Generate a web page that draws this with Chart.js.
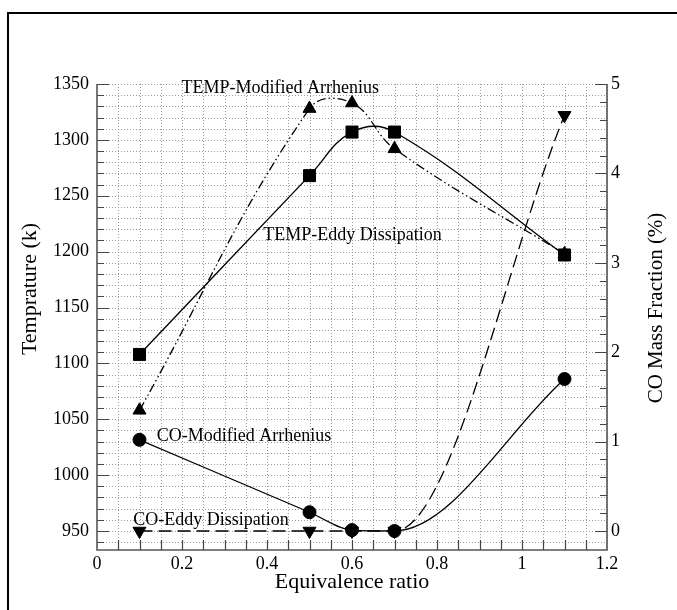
<!DOCTYPE html>
<html>
<head>
<meta charset="utf-8">
<script src="https://cdn.jsdelivr.net/npm/chart.js@4.4.0/dist/chart.umd.min.js"></script>
<style>
html, body { margin: 0; padding: 0; background: #fff; }
#wrap { position: relative; width: 677px; height: 610px; overflow: hidden; }
#frame { position: absolute; left: 7px; top: 12px; width: 720px; height: 720px;
         border-top: 2px solid #000; border-left: 2px solid #000; }
#c { position: absolute; left: 0; top: 0; }
</style>
</head>
<body>
<div id="wrap"><div id="frame"></div><canvas id="c" width="677" height="610"></canvas></div>
<script>
// ---- data ----
const equivalenceRatio = [0.1, 0.5, 0.6, 0.7, 1.1];
const tempEddyDissipation = [1108, 1268, 1307, 1307, 1197];
const tempModifiedArrhenius = [1058, 1328, 1333, 1292, 1198];
const coModifiedArrhenius = [1.02, 0.21, 0.01, 0.0, 1.70];
const coEddyDissipation = [0, 0, 0, 0, 4.65];

const seriesNames = ['TEMP-Eddy Dissipation', 'TEMP-Modified Arrhenius',
                     'CO-Modified Arrhenius', 'CO-Eddy Dissipation'];

const xTickLabels = [0, 0.2, 0.4, 0.6, 0.8, 1, 1.2];
const tempTickLabels = [950, 1000, 1050, 1100, 1150, 1200, 1250, 1300, 1350];
const coTickLabels = [0, 1, 2, 3, 4, 5];

const xTitle = 'Equivalence ratio';
const tempTitle = 'Temprature (k)';
const coTitle = 'CO Mass Fraction (%)';

// ---- axis ranges / minor steps ----
const xRange = [0, 1.2], tempRange = [933, 1350], coRange = [-0.2125, 5];
const xMinor = 0.05, tempMinor = 10, coMinor = 0.2;

// annotation anchors (data units)
const labelAnchors = [
  { text: seriesNames[1], x: 0.199, y: 1346, axis: 'y' },
  { text: seriesNames[0], x: 0.391, y: 1215, axis: 'y' },
  { text: seriesNames[2], x: 0.1405, y: 1034.4, axis: 'y' },
  { text: seriesNames[3], x: 0.0854, y: 959.8, axis: 'y' }
];

const SERIF = '"Liberation Serif", "Times New Roman", serif';
const pts = (ys) => equivalenceRatio.map((x, i) => ({ x: x, y: ys[i] }));

function verticalText(ctx, text, cx, cy, size) {
  ctx.save();
  ctx.font = size + 'px ' + SERIF;
  ctx.fillStyle = '#000';
  ctx.textAlign = 'center';
  ctx.textBaseline = 'middle';
  ctx.translate(cx, cy);
  ctx.rotate(-Math.PI / 2);
  ctx.fillText(text, 0, 0);
  ctx.restore();
}

const paperGrid = {
  id: 'paperGrid',
  beforeDatasetsDraw(chart) {
    const { ctx, chartArea: a, scales } = chart;
    const x = scales.x, y = scales.y, y2 = scales.y2;
    ctx.save();
    ctx.lineWidth = 1;
    ctx.strokeStyle = '#9c9c9c';
    ctx.setLineDash([1, 2]);
    ctx.beginPath();
    for (let i = 1; i * xMinor <= xRange[1] + 1e-9; i++) {
      const px = Math.round(x.getPixelForValue(i * xMinor)) + 0.5;
      ctx.moveTo(px, a.top); ctx.lineTo(px, a.bottom);
    }
    for (let v = Math.ceil(tempRange[0] / tempMinor) * tempMinor; v <= tempRange[1] + 1e-9; v += tempMinor) {
      const py = Math.round(y.getPixelForValue(v)) + 0.5;
      ctx.moveTo(a.left, py); ctx.lineTo(a.right, py);
    }
    ctx.stroke();
    ctx.setLineDash([]);

    // ticks (inward)
    ctx.strokeStyle = '#444';
    ctx.lineWidth = 1.2;
    ctx.beginPath();
    for (let v = Math.ceil(tempRange[0] / tempMinor) * tempMinor; v <= tempRange[1] + 1e-9; v += tempMinor) {
      const py = Math.round(y.getPixelForValue(v)) + 0.5;
      const len = (Math.round(v) % 50 === 0) ? 12 : 7;
      ctx.moveTo(a.left, py); ctx.lineTo(a.left + len, py);
    }
    for (let i = 0; i * coMinor <= coRange[1] + 1e-9; i++) {
      const v = i * coMinor;
      const py = Math.round(y2.getPixelForValue(v)) + 0.5;
      const len = (i % 5 === 0) ? 12 : 7;
      ctx.moveTo(a.right, py); ctx.lineTo(a.right - len, py);
    }
    for (let i = 1; i * xMinor < xRange[1] - 1e-9; i++) {
      const px = Math.round(x.getPixelForValue(i * xMinor)) + 0.5;
      ctx.moveTo(px, a.bottom); ctx.lineTo(px, a.bottom - 10);
    }
    ctx.stroke();

    // axis lines
    ctx.strokeStyle = '#555';
    ctx.lineWidth = 1.6;
    ctx.beginPath();
    ctx.moveTo(a.left, a.top); ctx.lineTo(a.left, a.bottom); ctx.lineTo(a.right, a.bottom); ctx.lineTo(a.right, a.top);
    ctx.stroke();
    ctx.restore();
  },
  afterDatasetsDraw(chart) {
    const { ctx, scales, chartArea: a } = chart;
    ctx.save();
    ctx.fillStyle = '#000';
    ctx.font = '18px ' + SERIF;
    ctx.textAlign = 'left';
    ctx.textBaseline = 'middle';
    labelAnchors.forEach(l => {
      ctx.fillText(l.text, scales.x.getPixelForValue(l.x), scales[l.axis].getPixelForValue(l.y));
    });
    ctx.restore();
    const mid = (a.top + a.bottom) / 2;
    verticalText(ctx, tempTitle, scales.y.left + 30, mid - 28, 22);
    verticalText(ctx, coTitle, scales.y2.right - 21, mid - 9, 21);
  }
};

const common = { borderColor: '#000', backgroundColor: '#000', pointBackgroundColor: '#000',
                 pointBorderColor: '#000', borderWidth: 1.3, pointBorderWidth: 1, fill: false };

new Chart(document.getElementById('c'), {
  type: 'line',
  data: {
    datasets: [
      Object.assign({}, common, { label: seriesNames[0], data: pts(tempEddyDissipation), yAxisID: 'y',
        tension: 0.4, pointStyle: 'rect', pointRadius: 8.5 }),
      Object.assign({}, common, { label: seriesNames[1], data: pts(tempModifiedArrhenius), yAxisID: 'y',
        tension: 0.4, pointStyle: 'triangle', pointRadius: 7.5, borderDash: [9, 3, 1.5, 3, 1.5, 3] }),
      Object.assign({}, common, { label: seriesNames[2], data: pts(coModifiedArrhenius), yAxisID: 'y2',
        cubicInterpolationMode: 'monotone', pointStyle: 'circle', pointRadius: 6.5 }),
      Object.assign({}, common, { label: seriesNames[3], data: pts(coEddyDissipation), yAxisID: 'y2',
        cubicInterpolationMode: 'monotone', pointStyle: 'triangle', pointRotation: 180, pointRadius: 7.5,
        borderDash: [13, 6] })
    ]
  },
  options: {
    responsive: false,
    animation: false,
    devicePixelRatio: 1,
    layout: { padding: { left: 0, right: 0, top: 84, bottom: 0 } },
    plugins: { legend: { display: false }, tooltip: { enabled: false } },
    scales: {
      x: {
        type: 'linear', position: 'bottom', min: xRange[0], max: xRange[1],
        afterBuildTicks: s => { s.ticks = xTickLabels.map(v => ({ value: v })); },
        afterFit: s => { s.height = 60; },
        grid: { display: false, drawTicks: false }, border: { display: false },
        ticks: { color: '#000', font: { family: SERIF, size: 18 }, padding: 3,
                 maxRotation: 0, autoSkip: false, callback: v => String(v) },
        title: { display: true, text: xTitle, color: '#000', font: { family: SERIF, size: 22 },
                 padding: { top: 0, bottom: 15 } }
      },
      y: {
        type: 'linear', position: 'left', min: tempRange[0], max: tempRange[1],
        afterBuildTicks: s => { s.ticks = tempTickLabels.map(v => ({ value: v })); },
        afterFit: s => { s.width = 97; },
        grid: { display: false, drawTicks: false }, border: { display: false },
        ticks: { color: '#000', font: { family: SERIF, size: 18 }, padding: 8, autoSkip: false,
                 callback: v => String(v) },
        title: { display: false }
      },
      y2: {
        type: 'linear', position: 'right', min: coRange[0], max: coRange[1],
        afterBuildTicks: s => { s.ticks = coTickLabels.map(v => ({ value: v })); },
        afterFit: s => { s.width = 70; },
        grid: { display: false, drawTicks: false }, border: { display: false },
        ticks: { color: '#000', font: { family: SERIF, size: 18 }, padding: 4, autoSkip: false,
                 callback: v => String(v) },
        title: { display: false }
      }
    }
  },
  plugins: [paperGrid]
});
</script>
</body>
</html>
